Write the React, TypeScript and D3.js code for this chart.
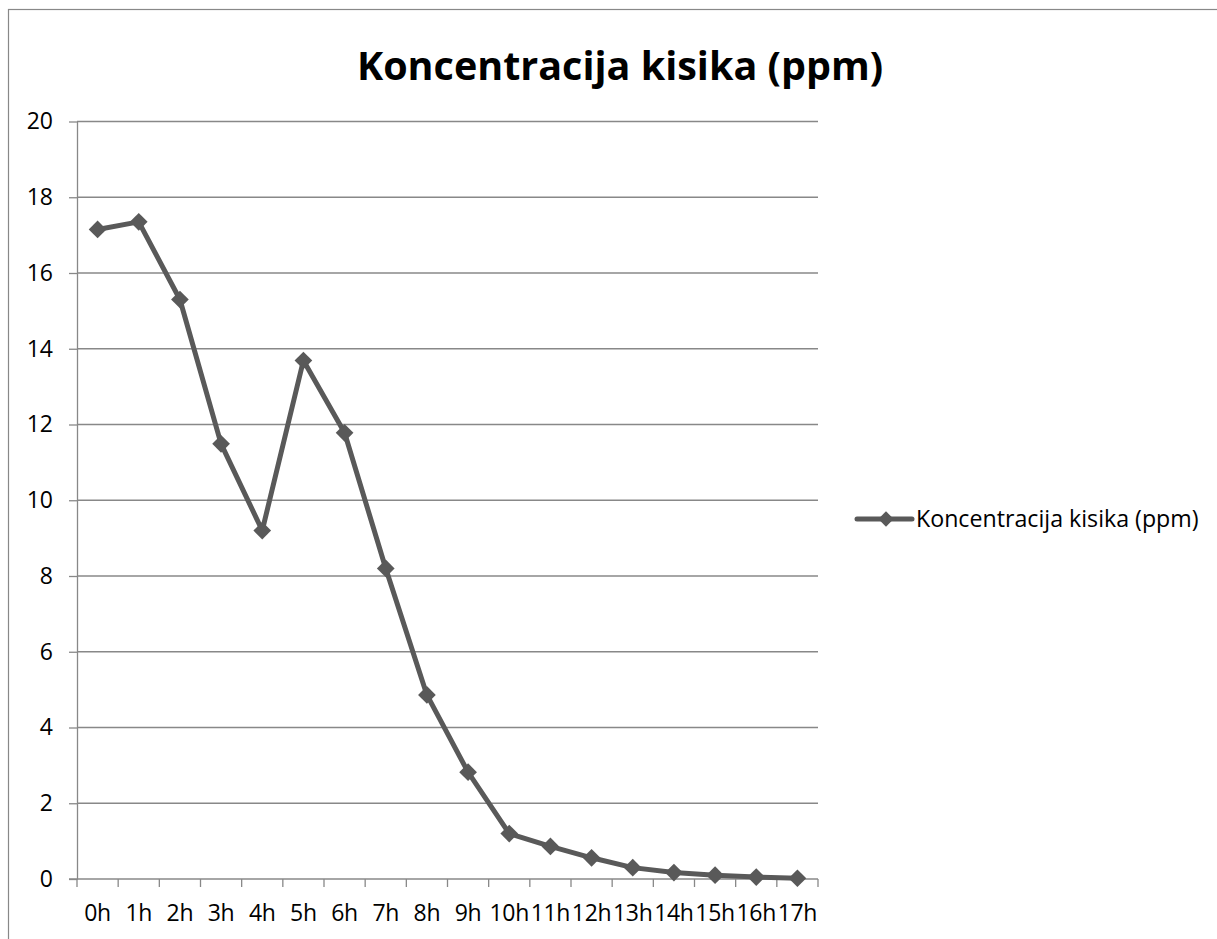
import React, {useEffect, useRef} from "react";
import * as d3 from "d3";

const hours = ["0h", "1h", "2h", "3h", "4h", "5h", "6h", "7h", "8h", "9h", "10h", "11h", "12h", "13h", "14h", "15h", "16h", "17h"];
const oxygen = [17.15, 17.35, 15.3, 11.49, 9.2, 13.69, 11.78, 8.2, 4.86, 2.82, 1.2, 0.86, 0.56, 0.3, 0.17, 0.1, 0.05, 0.02];
const yTicks = [0, 2, 4, 6, 8, 10, 12, 14, 16, 18, 20];
const seriesName = "Koncentracija kisika (ppm)";
const chartTitle = "Koncentracija kisika (ppm)";

const W = 1217;
const H = 939;
const FONT = "'Open Sans', 'DejaVu Sans', sans-serif";

const App: React.FC = () => {
	const svgRef = useRef<SVGSVGElement>(null);

	useEffect(() => {
		const svg = d3.select(svgRef.current);
		svg.selectAll("*").remove();

		const plot = {left: 77, right: 818, top: 121.5, bottom: 879};
		const lineColor = "#595959";
		const gridColor = "#888888";

		// outer chart frame (runs off the page on the right and bottom)
		svg.append("rect")
			.attr("x", 8.5)
			.attr("y", 9.5)
			.attr("width", W + 40)
			.attr("height", H + 40)
			.attr("fill", "#fff")
			.attr("stroke", gridColor)
			.attr("stroke-width", 1.2);

		const x = d3.scaleBand<string>().domain(hours).range([plot.left, plot.right]);
		const y = d3.scaleLinear().domain([0, 20]).range([plot.bottom, plot.top]);

		// gridlines
		svg.append("g")
			.selectAll("line")
			.data(yTicks.filter((t) => t > 0))
			.enter()
			.append("line")
			.attr("x1", plot.left)
			.attr("x2", plot.right)
			.attr("y1", (d) => y(d))
			.attr("y2", (d) => y(d))
			.attr("stroke", gridColor)
			.attr("stroke-width", 1.3);

		// Y axis
		const yAxis = svg.append("g")
			.attr("transform", `translate(${plot.left},0)`)
			.call(d3.axisLeft(y).tickValues(yTicks).tickSize(8).tickPadding(16).tickSizeOuter(0));
		yAxis.select(".domain").attr("stroke", gridColor).attr("stroke-width", 1.3);
		yAxis.selectAll(".tick line").attr("stroke", gridColor).attr("stroke-width", 1.3);
		yAxis.selectAll(".tick text")
			.attr("fill", "#000")
			.style("font-family", FONT)
			.style("font-size", "23px");

		// X axis: ticks at band boundaries
		const xAxis = svg.append("g").attr("transform", `translate(0,${plot.bottom})`);
		xAxis.append("line")
			.attr("x1", plot.left - 8)
			.attr("x2", plot.right)
			.attr("stroke", gridColor)
			.attr("stroke-width", 1.3);
		const bounds = hours.map((h) => x(h) as number).concat([plot.right]);
		xAxis.selectAll(".xt")
			.data(bounds)
			.enter()
			.append("line")
			.attr("class", "xt")
			.attr("x1", (d) => d)
			.attr("x2", (d) => d)
			.attr("y1", 0)
			.attr("y2", 8)
			.attr("stroke", gridColor)
			.attr("stroke-width", 1.3);
		xAxis.selectAll(".xl")
			.data(hours)
			.enter()
			.append("text")
			.attr("class", "xl")
			.attr("x", (d) => (x(d) as number) + x.bandwidth() / 2)
			.attr("y", 42)
			.attr("text-anchor", "middle")
			.style("font-family", FONT)
			.style("font-size", "23px")
			.style("letter-spacing", "-0.3px")
			.attr("fill", "#000")
			.text((d) => d);

		// series line
		const pts = hours.map((h, i) => ({h, v: oxygen[i]}));
		const line = d3
			.line<{h: string; v: number}>()
			.x((d) => (x(d.h) as number) + x.bandwidth() / 2)
			.y((d) => y(d.v));
		svg.append("path")
			.datum(pts)
			.attr("fill", "none")
			.attr("stroke", lineColor)
			.attr("stroke-width", 5)
			.attr("stroke-linejoin", "round")
			.attr("d", line);

		const diamond = d3.symbol().type(d3.symbolDiamond2).size(200);
		svg.append("g")
			.selectAll("path")
			.data(pts)
			.enter()
			.append("path")
			.attr("transform", (d) => `translate(${(x(d.h) as number) + x.bandwidth() / 2},${y(d.v)})`)
			.attr("d", diamond)
			.attr("fill", lineColor);

		// legend
		const lg = svg.append("g").attr("transform", "translate(857,519)");
		lg.append("line")
			.attr("x1", 0)
			.attr("x2", 55)
			.attr("stroke", lineColor)
			.attr("stroke-width", 5)
			.attr("stroke-linecap", "round");
		lg.append("path")
			.attr("transform", "translate(29,0)")
			.attr("d", d3.symbol().type(d3.symbolDiamond2).size(150)())
			.attr("fill", lineColor);
		lg.append("text")
			.attr("x", 59)
			.attr("y", 8)
			.style("font-family", FONT)
			.style("font-size", "23.2px")
			.attr("fill", "#000")
			.text(seriesName);

		// title
		svg.append("text")
			.attr("x", 620)
			.attr("y", 80)
			.attr("text-anchor", "middle")
			.style("font-family", FONT)
			.style("font-size", "39.5px")
			.style("font-weight", "bold")
			.attr("fill", "#000")
			.text(chartTitle);
	}, []);

	return (
		<svg
			ref={svgRef}
			width={W}
			height={H}
			style={{position: "absolute", left: 0, top: 0, display: "block"}}
		/>
	);
};

export default App;
